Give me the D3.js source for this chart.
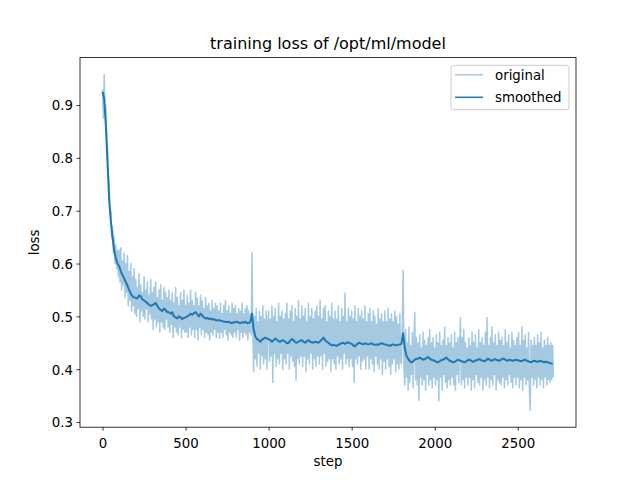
<!DOCTYPE html>
<html>
<head>
<meta charset="utf-8">
<script src="https://cdn.jsdelivr.net/npm/d3@7"></script>
<style>
  html, body { margin: 0; padding: 0; background: #fff; }
  svg { display: block; font-family: "DejaVu Sans", sans-serif; }
</style>
</head>
<body>
<svg id="chart" width="640" height="480"></svg>
<script>
// ---- data ----
const title = "training loss of /opt/ml/model";
const xLabel = "step";
const yLabel = "loss";
const seriesNames = ["original", "smoothed"];
const xTicks = [0, 500, 1000, 1500, 2000, 2500];
const yTicks = [0.3, 0.4, 0.5, 0.6, 0.7, 0.8, 0.9];
const stepsOriginal = d3.range(0, 2720, 5);   // 544 steps
const stepsSmoothed = d3.range(0, 2720, 10);  // 272 steps

const original = [
  0.93, 0.875, 0.958, 0.89, 0.90, 0.84, 0.82, 0.77, 0.75, 0.70, 0.70, 0.65, 0.67, 0.62, 0.65, 0.60, 0.635, 0.59, 0.625, 0.575,
  0.625, 0.565, 0.63, 0.55, 0.605, 0.56, 0.62, 0.535, 0.60, 0.545, 0.615, 0.52, 0.585, 0.53, 0.60, 0.51, 0.575, 0.52, 0.59, 0.505,
  0.57, 0.50, 0.555, 0.515, 0.58, 0.49, 0.56, 0.51, 0.545, 0.50, 0.575, 0.495, 0.55, 0.515, 0.565, 0.49, 0.54, 0.505, 0.57, 0.495,
  0.545, 0.475, 0.555, 0.495, 0.565, 0.48, 0.535, 0.49, 0.55, 0.47, 0.56, 0.49, 0.53, 0.48, 0.555, 0.475, 0.545, 0.495, 0.535, 0.48,
  0.55, 0.47, 0.53, 0.485, 0.545, 0.46, 0.525, 0.48, 0.555, 0.47, 0.535, 0.465, 0.52, 0.48, 0.545, 0.46, 0.53, 0.475, 0.55, 0.47,
  0.52, 0.47, 0.54, 0.46, 0.525, 0.48, 0.55, 0.465, 0.53, 0.475, 0.52, 0.46, 0.545, 0.475, 0.535, 0.455, 0.52, 0.48, 0.54, 0.465,
  0.53, 0.475, 0.515, 0.46, 0.535, 0.47, 0.52, 0.465, 0.525, 0.455, 0.51, 0.47, 0.53, 0.465, 0.515, 0.475, 0.525, 0.46, 0.52, 0.47,
  0.51, 0.458, 0.525, 0.47, 0.505, 0.46, 0.52, 0.475, 0.53, 0.465, 0.51, 0.455, 0.52, 0.47, 0.505, 0.465, 0.525, 0.46, 0.515, 0.47,
  0.52, 0.46, 0.505, 0.475, 0.515, 0.455, 0.51, 0.47, 0.525, 0.46, 0.505, 0.47, 0.515, 0.465, 0.52, 0.455, 0.51, 0.47, 0.505, 0.465,
  0.621, 0.47, 0.395, 0.50, 0.42, 0.515, 0.405, 0.49, 0.43, 0.51, 0.40, 0.50, 0.425, 0.52, 0.41, 0.495, 0.42, 0.51, 0.40, 0.49,
  0.51, 0.415, 0.495, 0.425, 0.52, 0.375, 0.50, 0.43, 0.515, 0.405, 0.49, 0.42, 0.525, 0.41, 0.50, 0.43, 0.51, 0.40, 0.495, 0.42,
  0.505, 0.41, 0.525, 0.43, 0.495, 0.40, 0.51, 0.425, 0.52, 0.415, 0.49, 0.405, 0.515, 0.379, 0.50, 0.42, 0.53, 0.41, 0.495, 0.425,
  0.52, 0.405, 0.50, 0.425, 0.515, 0.395, 0.49, 0.42, 0.525, 0.41, 0.50, 0.43, 0.515, 0.40, 0.495, 0.42, 0.51, 0.405, 0.52, 0.425,
  0.50, 0.41, 0.53, 0.425, 0.495, 0.40, 0.515, 0.43, 0.52, 0.405, 0.49, 0.415, 0.51, 0.42, 0.50, 0.395, 0.525, 0.42, 0.495, 0.41,
  0.51, 0.40, 0.495, 0.425, 0.52, 0.41, 0.49, 0.42, 0.515, 0.40, 0.50, 0.43, 0.544, 0.41, 0.49, 0.42, 0.515, 0.405, 0.50, 0.42,
  0.51, 0.405, 0.495, 0.375, 0.52, 0.42, 0.49, 0.41, 0.515, 0.425, 0.50, 0.40, 0.51, 0.415, 0.495, 0.42, 0.52, 0.40, 0.49, 0.425,
  0.505, 0.40, 0.515, 0.42, 0.49, 0.41, 0.51, 0.395, 0.50, 0.425, 0.485, 0.41, 0.515, 0.40, 0.495, 0.42, 0.505, 0.39, 0.49, 0.415,
  0.51, 0.40, 0.49, 0.42, 0.515, 0.405, 0.495, 0.39, 0.505, 0.41, 0.49, 0.42, 0.51, 0.395, 0.50, 0.41, 0.485, 0.40, 0.505, 0.415,
  0.41, 0.49, 0.587, 0.40, 0.37, 0.475, 0.385, 0.45, 0.36, 0.48, 0.375, 0.445, 0.39, 0.47, 0.365, 0.455, 0.508, 0.38, 0.46, 0.37,
  0.45, 0.341, 0.465, 0.385, 0.44, 0.37, 0.47, 0.38, 0.455, 0.36, 0.445, 0.39, 0.46, 0.37, 0.475, 0.38, 0.45, 0.365, 0.46, 0.385,
  0.44, 0.37, 0.465, 0.38, 0.45, 0.34, 0.47, 0.385, 0.445, 0.36, 0.455, 0.39, 0.48, 0.375, 0.445, 0.365, 0.46, 0.38, 0.45, 0.37,
  0.465, 0.385, 0.44, 0.37, 0.47, 0.36, 0.45, 0.39, 0.46, 0.375, 0.445, 0.498, 0.37, 0.46, 0.38, 0.475, 0.365, 0.45, 0.385, 0.44,
  0.37, 0.46, 0.385, 0.445, 0.36, 0.47, 0.38, 0.45, 0.365, 0.465, 0.39, 0.44, 0.375, 0.475, 0.37, 0.45, 0.385, 0.46, 0.36, 0.445,
  0.38, 0.47, 0.37, 0.498, 0.385, 0.445, 0.365, 0.46, 0.38, 0.48, 0.37, 0.45, 0.39, 0.465, 0.36, 0.445, 0.38, 0.47, 0.375, 0.455,
  0.37, 0.46, 0.385, 0.445, 0.365, 0.475, 0.38, 0.45, 0.37, 0.465, 0.39, 0.44, 0.375, 0.47, 0.365, 0.455, 0.385, 0.445, 0.37, 0.46,
  0.385, 0.47, 0.365, 0.445, 0.38, 0.48, 0.36, 0.455, 0.385, 0.465, 0.37, 0.44, 0.38, 0.47, 0.365, 0.322, 0.455, 0.385, 0.445, 0.37,
  0.46, 0.38, 0.445, 0.365, 0.465, 0.385, 0.45, 0.37, 0.47, 0.38, 0.44, 0.365, 0.455, 0.385, 0.445, 0.37, 0.46, 0.38, 0.445, 0.375,
  0.45, 0.38, 0.445, 0.385
];

const smoothed = [
  0.925, 0.912, 0.86, 0.79, 0.72, 0.68, 0.65, 0.625, 0.61, 0.60,
  0.595, 0.585, 0.578, 0.572, 0.565, 0.558, 0.55, 0.543, 0.538, 0.536,
  0.535, 0.534, 0.54, 0.538, 0.532, 0.53, 0.528, 0.525, 0.522, 0.52,
  0.521, 0.523, 0.525, 0.52, 0.515, 0.512, 0.51, 0.515, 0.512, 0.508,
  0.508, 0.505, 0.508, 0.50, 0.498, 0.496, 0.50, 0.498, 0.495, 0.497,
  0.498, 0.50, 0.502, 0.505, 0.503, 0.506, 0.508, 0.504, 0.50, 0.505,
  0.502, 0.498, 0.496, 0.497, 0.495, 0.496, 0.494, 0.495, 0.493, 0.492,
  0.493, 0.492, 0.491, 0.49, 0.49, 0.489, 0.49, 0.488, 0.487, 0.489,
  0.489, 0.49, 0.488, 0.487, 0.489, 0.488, 0.49, 0.487, 0.488, 0.489,
  0.505, 0.475, 0.462, 0.457, 0.455, 0.452, 0.456, 0.458, 0.46, 0.458,
  0.457, 0.455, 0.452, 0.455, 0.458, 0.456, 0.453, 0.452, 0.455, 0.454,
  0.452, 0.449, 0.45, 0.454, 0.457, 0.455, 0.451, 0.45, 0.452, 0.454,
  0.455, 0.452, 0.45, 0.453, 0.455, 0.452, 0.451, 0.45, 0.452, 0.451,
  0.45, 0.453, 0.456, 0.46, 0.455, 0.452, 0.45, 0.447, 0.445, 0.446,
  0.445, 0.444, 0.446, 0.448, 0.449, 0.45, 0.448, 0.45, 0.451, 0.449,
  0.448, 0.445, 0.443, 0.447, 0.449, 0.45, 0.448, 0.447, 0.449, 0.448,
  0.447, 0.448, 0.449, 0.447, 0.446, 0.447, 0.446, 0.448, 0.449, 0.448,
  0.447, 0.446, 0.445, 0.444, 0.446, 0.447, 0.446, 0.445, 0.446, 0.447,
  0.448, 0.468, 0.44, 0.425, 0.42, 0.415, 0.413, 0.415, 0.418, 0.42,
  0.42, 0.422, 0.42, 0.418, 0.419, 0.421, 0.423, 0.42, 0.418, 0.417,
  0.416, 0.414, 0.413, 0.415, 0.417, 0.418, 0.42, 0.422, 0.419, 0.416,
  0.415, 0.413, 0.414, 0.416, 0.418, 0.417, 0.415, 0.414, 0.413, 0.415,
  0.417, 0.418, 0.416, 0.414, 0.415, 0.417, 0.418, 0.419, 0.417, 0.416,
  0.415, 0.417, 0.42, 0.418, 0.416, 0.417, 0.419, 0.418, 0.417, 0.416,
  0.418, 0.42, 0.419, 0.417, 0.416, 0.418, 0.417, 0.416, 0.417, 0.418,
  0.417, 0.416, 0.415, 0.416, 0.418, 0.417, 0.415, 0.414, 0.413, 0.415,
  0.416, 0.415, 0.414, 0.415, 0.416, 0.414, 0.413, 0.414, 0.413, 0.412,
  0.411, 0.41
];

// ---- layout ----
const ax = { left: 80, top: 57.6, width: 496, height: 369.6 };
const color = "#1f77b4";
const fontSize = 13.333;

const svg = d3.select("#chart");

const xMin = d3.min(stepsOriginal), xMax = d3.max(stepsOriginal);
const xPad = (xMax - xMin) * 0.05;
const allY = original.concat(smoothed);
const yMin = d3.min(allY), yMax = d3.max(allY);
const yPad = (yMax - yMin) * 0.05;

const x = d3.scaleLinear().domain([xMin - xPad, xMax + xPad])
  .range([ax.left, ax.left + ax.width]);
const y = d3.scaleLinear().domain([yMin - yPad, yMax + yPad])
  .range([ax.top + ax.height, ax.top]);

svg.append("rect").attr("x", ax.left).attr("y", ax.top)
  .attr("width", ax.width).attr("height", ax.height).attr("fill", "#fff");

const makeLine = (xs, vals) => d3.line()
  .x((d, i) => x(xs[i]))
  .y(d => y(d))(vals.slice(0, xs.length));

svg.append("path").attr("d", makeLine(stepsOriginal, original))
  .attr("fill", "none").attr("stroke", color).attr("stroke-opacity", 0.4)
  .attr("stroke-width", 1.5).attr("stroke-linejoin", "round");

svg.append("path").attr("d", makeLine(stepsSmoothed, smoothed))
  .attr("fill", "none").attr("stroke", color)
  .attr("stroke-width", 2).attr("stroke-linejoin", "round");

// axes
const xAxis = d3.axisBottom(x).tickValues(xTicks).tickSize(3.5).tickPadding(3.5)
  .tickFormat(d3.format("d"));
const gx = svg.append("g").attr("transform", `translate(0,${ax.top + ax.height})`).call(xAxis);
const yAxis = d3.axisLeft(y).tickValues(yTicks).tickSize(3.5).tickPadding(3.5)
  .tickFormat(d3.format(".1f"));
const gy = svg.append("g").attr("transform", `translate(${ax.left},0)`).call(yAxis);

[gx, gy].forEach(g => {
  g.select(".domain").remove();
  g.selectAll(".tick line").attr("stroke", "#000").attr("stroke-width", 0.8);
  g.selectAll(".tick text").attr("fill", "#000")
    .style("font-family", "'DejaVu Sans', sans-serif").style("font-size", fontSize + "px");
});
gx.selectAll(".tick text").attr("dy", null).attr("y", 0)
  .attr("transform", "translate(0,20.8)");
gy.selectAll(".tick text").attr("dy", "0.36em").attr("x", -7);

// spines
svg.append("rect").attr("x", ax.left).attr("y", ax.top)
  .attr("width", ax.width).attr("height", ax.height)
  .attr("fill", "none").attr("stroke", "#000").attr("stroke-width", 0.8);

// title & labels
svg.append("text").attr("x", ax.left + ax.width / 2).attr("y", 48.5)
  .attr("text-anchor", "middle").style("font-size", "16px").attr("fill", "#000").text(title);
svg.append("text").attr("x", ax.left + ax.width / 2).attr("y", 466)
  .attr("text-anchor", "middle").style("font-size", fontSize + "px").attr("fill", "#000").text(xLabel);
svg.append("text").attr("transform", `translate(38.5,${ax.top + ax.height / 2}) rotate(-90)`)
  .attr("text-anchor", "middle").style("font-size", fontSize + "px").attr("fill", "#000").text(yLabel);

// legend
const lg = svg.append("g");
lg.append("rect").attr("x", 451).attr("y", 65.3).attr("width", 118).attr("height", 44.4)
  .attr("rx", 2.8).attr("fill", "#fff").attr("fill-opacity", 0.8)
  .attr("stroke", "#cccccc").attr("stroke-width", 1);
const legendItems = [
  { name: seriesNames[0], opacity: 0.4 },
  { name: seriesNames[1], opacity: 1 }
];
legendItems.forEach((it, i) => {
  const yy = 74.7 + i * 22.6;
  lg.append("line").attr("x1", 455).attr("x2", 483).attr("y1", yy).attr("y2", yy)
    .attr("stroke", color).attr("stroke-opacity", it.opacity).attr("stroke-width", 1.5);
  lg.append("text").attr("x", 495).attr("y", yy + 4.8)
    .style("font-size", fontSize + "px").attr("fill", "#000").text(it.name);
});
</script>
</body>
</html>
